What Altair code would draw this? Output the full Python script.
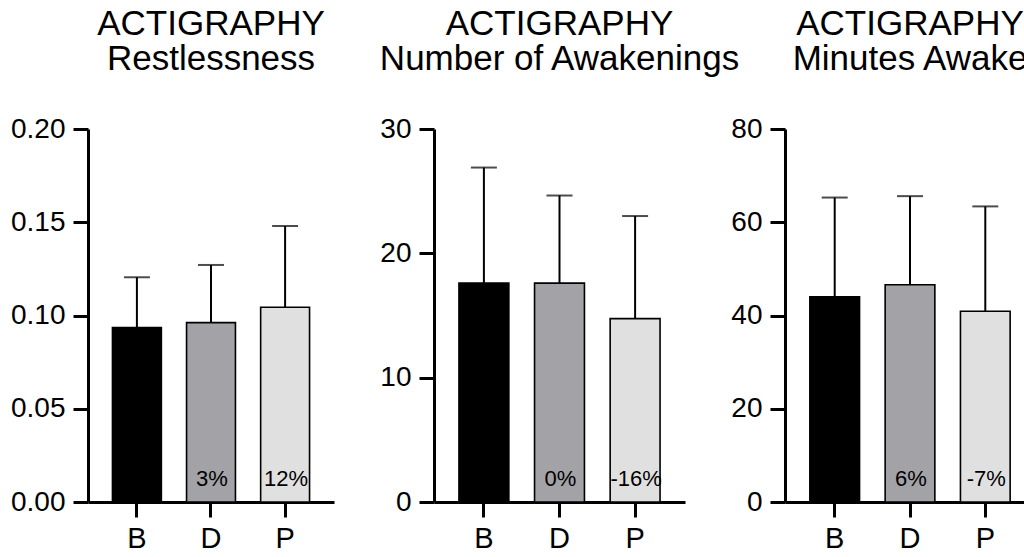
import altair as alt
import pandas as pd

FONT = "Liberation Sans"

# Conditions shown on every panel
conditions = ["B", "D", "P"]
bar_colors = ["#000000", "#a3a2a7", "#e0e0e0"]

# Restlessness (mean and mean + SD)
restless_mean = [0.0935, 0.0962, 0.1044]
restless_upper = [0.1205, 0.1271, 0.1480]
restless_change = ["", "3%", "12%"]

# Number of awakenings
awaken_mean = [17.6, 17.6, 14.75]
awaken_upper = [26.9, 24.65, 23.0]
awaken_change = ["", "0%", "-16%"]

# Minutes awake
minutes_mean = [44.0, 46.6, 40.9]
minutes_upper = [65.3, 65.6, 63.4]
minutes_change = ["", "6%", "-7%"]

PLOT_H = 373


def panel(mean, upper, change, subtitle, y_max, y_values, y_format, width):
    df = pd.DataFrame({
        "cond": conditions,
        "mean": mean,
        "upper": upper,
        "change": change,
    })
    x = alt.X(
        "cond:N",
        sort=conditions,
        scale=alt.Scale(paddingInner=0.34, paddingOuter=0.33),
        axis=alt.Axis(title=None, labelAngle=0, labelFontSize=29,
                      labelPadding=7, tickSize=15),
    )
    yscale = alt.Scale(domain=[0, y_max], nice=False, zero=True)
    yaxis = alt.Axis(title=None, values=y_values, format=y_format,
                     labelFontSize=28, labelPadding=8, tickSize=15,
                     grid=False)
    base = alt.Chart(df)

    err = base.mark_rule(color="black", strokeWidth=2).encode(
        x=x,
        y=alt.Y("mean:Q", scale=yscale, axis=yaxis),
        y2="upper:Q",
    )
    cap = base.mark_tick(color="black", thickness=2, size=26).encode(
        x=x,
        y=alt.Y("upper:Q", scale=yscale),
    )
    bars = base.mark_bar(stroke="black", strokeWidth=1.6).encode(
        x=x,
        y=alt.Y("mean:Q", scale=yscale, axis=yaxis),
        color=alt.Color("cond:N",
                        scale=alt.Scale(domain=conditions, range=bar_colors),
                        legend=None),
    )
    labels = base.mark_text(
        font=FONT, fontSize=22, color="black", baseline="alphabetic",
        align="center", dy=-16, dx=1,
    ).encode(
        x=x,
        y=alt.Y("zero:Q", scale=yscale),
        text="change:N",
    ).transform_calculate(zero="0")

    return alt.layer(err, cap, bars, labels).properties(
        width=width,
        height=PLOT_H,
        title=alt.TitleParams(
            text=["ACTIGRAPHY", subtitle],
            anchor="middle",
        ),
    )


p1 = panel(restless_mean, restless_upper, restless_change, "Restlessness",
           0.2, [0, 0.05, 0.10, 0.15, 0.20], ".2f", 246)
p2 = panel(awaken_mean, awaken_upper, awaken_change, "Number of Awakenings",
           30, [0, 10, 20, 30], "d", 251)
p3 = panel(minutes_mean, minutes_upper, minutes_change, "Minutes Awake",
           80, [0, 20, 40, 60, 80], "d", 250)

# Fixed canvas: the first plot area starts at (left, top); anything past the
# right edge of the 1024 px canvas is cut off.
LEFT, TOP = 88, 129
chart = alt.hconcat(p1, p2, p3, spacing=100, bounds="flush").properties(
    autosize=alt.AutoSizeParams(type="none"),
    padding={"left": LEFT, "top": TOP, "right": 1024 - LEFT,
             "bottom": 557 - TOP},
).configure_view(
    stroke=None,
).configure_axis(
    labelFont=FONT,
    labelColor="black",
    domainColor="black",
    domainWidth=3,
    tickColor="black",
    tickWidth=3,
).configure_title(
    font=FONT,
    fontSize=35,
    fontWeight="normal",
    color="black",
    lineHeight=35,
    offset=38,
)

chart.save("out.html", embed_options={"renderer": "svg", "actions": False})
